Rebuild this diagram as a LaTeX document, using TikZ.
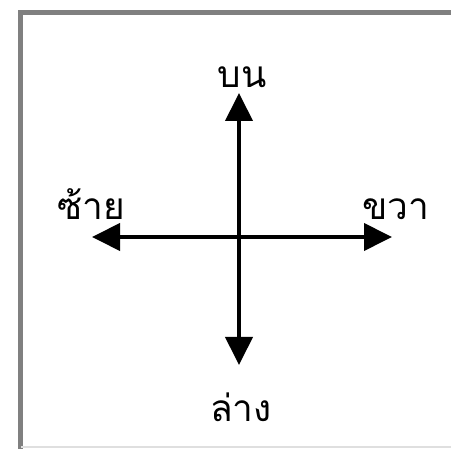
\documentclass[tikz,border=0pt]{standalone}
\usepackage{fontspec}
\newfontfamily\thaifont[Script=Thai]{Loma}
\usetikzlibrary{arrows.meta}

\begin{document}
\begin{tikzpicture} [x=1pt, y=-1pt, >={Triangle[length=28pt, width=27pt]}]
	\useasboundingbox (0,0) rectangle (451,449);
	\draw[gray, line width=5pt] (20,449) -- (20,13) -- (451,13);
	\draw[gray!25, line width=2pt] (21,447) -- (451,447);
	\coordinate (o) at (239,237);
	\coordinate (up) at (239,93);
	\coordinate (down) at (239,365);
	\coordinate (left) at (92,237);
	\coordinate (right) at (392,237);
	\draw [line width=4pt, ->] (o) -- (up);
	\draw [line width=4pt, ->] (o) -- (down);
	\draw [line width=4pt, ->] (o) -- (left);
	\draw [line width=4pt, ->] (o) -- (right);
	\node [anchor=base, font=\thaifont\fontsize{37}{37}\selectfont] (bon) at (242,88) {บน};
	\node [anchor=base, font=\thaifont\fontsize{37}{37}\selectfont] (sai) at (91,220) {ซ้าย};
	\node [anchor=base, font=\thaifont\fontsize{37}{37}\selectfont] (khwa) at (396,220) {ขวา};
	\node [anchor=base, font=\thaifont\fontsize{37}{37}\selectfont] (lang) at (241,422) {ล่าง};
\end{tikzpicture}
\end{document}
